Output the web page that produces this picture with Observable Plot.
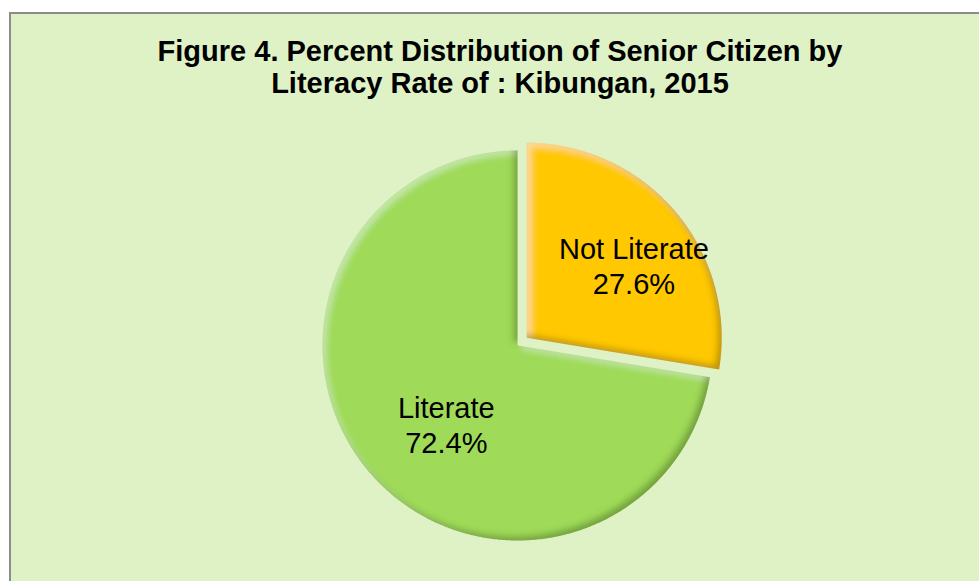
<!DOCTYPE html>
<html>
<head>
<meta charset="utf-8">
<script src="https://cdn.jsdelivr.net/npm/d3@7"></script>
<script src="https://cdn.jsdelivr.net/npm/@observablehq/plot@0.6"></script>
<style>
  html, body { margin: 0; padding: 0; background: #ffffff; overflow: hidden; width: 979px; height: 581px; }
  #frame { position: absolute; left: 9px; top: 12px; width: 1000px; height: 600px; border: 2px solid #8c8c8c; background: #def2c6; }
  #title { position: absolute; left: 10px; top: 35px; width: 980px; text-align: center; font: bold 29px "Liberation Sans", Arial, sans-serif; line-height: 32px; color: #000; }
  #chart { position: absolute; left: 0; top: 120px; }
</style>
</head>
<body>
<div id="frame"></div>
<div id="title">Figure 4. Percent Distribution of Senior Citizen by<br>Literacy Rate of : Kibungan, 2015</div>
<div id="chart"></div>
<script>
const categories = ["Not Literate", "Literate"];
const values = [27.6, 72.4];
const labels = ["Not Literate\n27.6%", "Literate\n72.4%"];
const colors = ["#ffc800", "#9fda58"];
const explodedCategory = "Not Literate";

const explodeDist = 0.062;
const labelRadius = 0.6;

const data = categories.map((c, i) => ({cat: c, value: values[i], label: labels[i]}));
const arcs = d3.pie().sort(null).value(d => d.value)(data);

const pts = [];
const labelPts = [];
for (const a of arcs) {
  const mid = (a.startAngle + a.endAngle) / 2;
  const off = a.data.cat === explodedCategory ? explodeDist : 0;
  const ox = off * Math.sin(mid), oy = off * Math.cos(mid);
  pts.push({cat: a.data.cat, x: ox, y: oy});
  const n = Math.max(2, Math.ceil((a.endAngle - a.startAngle) / (Math.PI / 360)));
  for (let k = 0; k <= n; k++) {
    const t = a.startAngle + (a.endAngle - a.startAngle) * k / n;
    pts.push({cat: a.data.cat, x: ox + Math.sin(t), y: oy + Math.cos(t)});
  }
  labelPts.push({cat: a.data.cat, label: a.data.label, x: ox + labelRadius * Math.sin(mid), y: oy + labelRadius * Math.cos(mid)});
}

const chart = Plot.plot({
  width: 979,
  height: 461,
  marginLeft: 322,
  marginRight: 267,
  marginTop: 30,
  marginBottom: 41,
  x: {domain: [-1, 1], axis: null},
  y: {domain: [-1, 1], axis: null},
  color: {domain: categories, range: colors},
  style: {background: "transparent", overflow: "visible"},
  marks: [
    Plot.line(pts, {x: "x", y: "y", z: "cat", fill: "cat", stroke: "none", curve: "linear-closed"}),
    Plot.text(labelPts, {x: "x", y: "y", text: "label", fontSize: 29, lineHeight: 1.2, fill: "#000", dx: 18, dy: 3, fontFamily: "'Liberation Sans', Arial, sans-serif"})
  ]
});

const svg = d3.select(chart);
const defs = svg.insert("defs", ":first-child");
defs.html(`
<filter id="bevel" x="-10%" y="-10%" width="120%" height="120%">
  <feGaussianBlur in="SourceAlpha" stdDeviation="3" result="b"/>
  <feOffset in="b" dx="4" dy="4" result="bo"/>
  <feComposite in="SourceAlpha" in2="bo" operator="out" result="hl"/>
  <feFlood flood-color="#ffffff" flood-opacity="0.32"/>
  <feComposite in2="hl" operator="in" result="hlc"/>
  <feOffset in="b" dx="-4" dy="-4" result="bo2"/>
  <feComposite in="SourceAlpha" in2="bo2" operator="out" result="sh"/>
  <feFlood flood-color="#1a2a00" flood-opacity="0.5"/>
  <feComposite in2="sh" operator="in" result="shc"/>
  <feMerge><feMergeNode in="SourceGraphic"/><feMergeNode in="hlc"/><feMergeNode in="shc"/></feMerge>
</filter>`);
svg.selectAll("g[aria-label=line] path").attr("filter", "url(#bevel)");

document.getElementById("chart").appendChild(chart);
</script>
</body>
</html>
